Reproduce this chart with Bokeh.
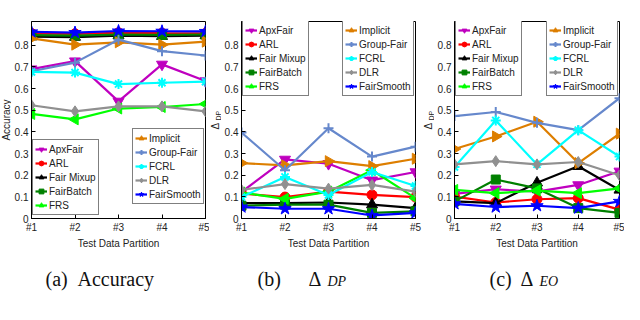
import math
from bokeh.plotting import figure
from bokeh.models import FixedTicker, Legend, LegendItem
from bokeh.layouts import column, row
from bokeh.embed import file_html
from bokeh.resources import INLINE
from bokeh.core.properties import value

# ---------------- data ----------------
partitions = [1, 2, 3, 4, 5]
partition_labels = ["#1", "#2", "#3", "#4", "#5"]
y_ticks = [0, 0.1, 0.2, 0.3, 0.4, 0.5, 0.6, 0.7, 0.8]
y_tick_labels = ["0", "0.1", "0.2", "0.3", "0.4", "0.5", "0.6", "0.7", "0.8"]
methods = ["ApxFair", "ARL", "Fair Mixup", "FairBatch", "FRS",
           "Implicit", "Group-Fair", "FCRL", "DLR", "FairSmooth"]

# (a) Accuracy
acc_apxfair = [0.690, 0.727, 0.541, 0.712, 0.635]
acc_arl = [0.855, 0.853, 0.858, 0.856, 0.855]
acc_fairmixup = [0.840, 0.838, 0.845, 0.842, 0.845]
acc_fairbatch = [0.847, 0.845, 0.850, 0.848, 0.850]
acc_frs = [0.483, 0.458, 0.508, 0.515, 0.529]
acc_implicit = [0.832, 0.803, 0.814, 0.803, 0.817]
acc_groupfair = [0.680, 0.720, 0.826, 0.773, 0.753]
acc_fcrl = [0.677, 0.674, 0.621, 0.627, 0.632]
acc_dlr = [0.523, 0.495, 0.518, 0.518, 0.495]
acc_fairsmooth = [0.862, 0.859, 0.866, 0.865, 0.864]

# (b) Delta DP
dp_apxfair = [0.122, 0.273, 0.253, 0.177, 0.215]
dp_arl = [0.115, 0.099, 0.124, 0.109, 0.099]
dp_fairmixup = [0.071, 0.071, 0.074, 0.064, 0.048]
dp_fairbatch = [0.059, 0.064, 0.064, 0.026, 0.033]
dp_frs = [0.120, 0.091, 0.124, 0.223, 0.094]
dp_implicit = [0.256, 0.245, 0.265, 0.242, 0.276]
dp_groupfair = [0.397, 0.223, 0.417, 0.286, 0.332]
dp_fcrl = [0.099, 0.192, 0.109, 0.215, 0.150]
dp_dlr = [0.132, 0.159, 0.138, 0.155, 0.124]
dp_fairsmooth = [0.053, 0.045, 0.045, 0.014, 0.026]

# (c) Delta EO
eo_apxfair = [0.114, 0.135, 0.124, 0.155, 0.218]
eo_arl = [0.101, 0.074, 0.089, 0.094, 0.041]
eo_fairmixup = [0.079, 0.071, 0.165, 0.241, 0.132]
eo_fairbatch = [0.079, 0.180, 0.139, 0.048, 0.026]
eo_frs = [0.132, 0.117, 0.129, 0.117, 0.139]
eo_implicit = [0.321, 0.379, 0.447, 0.256, 0.392]
eo_groupfair = [0.473, 0.492, 0.442, 0.408, 0.556]
eo_fcrl = [0.238, 0.453, 0.250, 0.408, 0.286]
eo_dlr = [0.250, 0.265, 0.250, 0.261, 0.200]
eo_fairsmooth = [0.068, 0.053, 0.059, 0.048, 0.079]

acc_series = [acc_apxfair, acc_arl, acc_fairmixup, acc_fairbatch, acc_frs,
              acc_implicit, acc_groupfair, acc_fcrl, acc_dlr, acc_fairsmooth]
dp_series = [dp_apxfair, dp_arl, dp_fairmixup, dp_fairbatch, dp_frs,
             dp_implicit, dp_groupfair, dp_fcrl, dp_dlr, dp_fairsmooth]
eo_series = [eo_apxfair, eo_arl, eo_fairmixup, eo_fairbatch, eo_frs,
             eo_implicit, eo_groupfair, eo_fcrl, eo_dlr, eo_fairsmooth]

# ---------------- styles ----------------
colors = ["#BF00BF", "#FF0000", "#000000", "#008000", "#00FF00",
          "#DD7E00", "#6688CC", "#00FFFF", "#909090", "#0000FF"]
markers = ["inverted_triangle", "circle", "triangle", "square", "triangle",
           "triangle", "cross", "asterisk", "diamond", "star"]
angles = [0, 0, 0, 0, math.pi / 2, -math.pi / 2, 0, 0, 0, 0]
msizes = [11, 10, 11, 9, 11, 11, 10, 10, 11, 13]

SANS = "'Liberation Sans', Arial, sans-serif"
SERIF = "'Liberation Serif', serif"
TXT = "#222222"
Y_RANGE = (0, 0.91)
H = 251
TOP = 21
BOTTOM = 30


def make_panel(series, width, left, right, leg_left_loc, leg_right_loc):
    p = figure(width=width, height=H, x_range=(1, 5), y_range=Y_RANGE,
               output_backend="svg", toolbar_location=None,
               min_border_left=left, min_border_right=right,
               min_border_top=TOP, min_border_bottom=BOTTOM)
    p.grid.visible = False
    p.outline_line_color = "#000000"
    p.outline_line_alpha = 1
    p.background_fill_color = "white"
    p.border_fill_color = "white"
    for ax in (p.xaxis[0], p.yaxis[0]):
        ax.major_tick_in = 4
        ax.major_tick_out = 0
        ax.minor_tick_line_color = None
        ax.axis_line_color = "#000000"
        ax.major_label_text_font = SANS
        ax.major_label_text_font_size = "10px"
        ax.major_label_text_color = TXT
        ax.major_label_standoff = 3
    p.xaxis.ticker = FixedTicker(ticks=partitions)
    p.xaxis.major_label_overrides = {t: l for t, l in zip(partitions, partition_labels)}
    p.yaxis.ticker = FixedTicker(ticks=y_ticks)
    p.yaxis.major_label_overrides = {t: l for t, l in zip(y_ticks, y_tick_labels)}
    p.xaxis.axis_label = "Test Data Partition"
    p.xaxis.axis_label_text_font = SANS
    p.xaxis.axis_label_text_font_style = "normal"
    p.xaxis.axis_label_text_font_size = "10px"
    p.xaxis.axis_label_text_color = TXT
    p.xaxis.axis_label_standoff = 2

    items = []
    for i, (vals, m) in enumerate(zip(series, methods)):
        lr = p.line(partitions, vals, line_color=colors[i], line_width=2.2)
        sr = p.scatter(partitions, vals, marker=markers[i], size=msizes[i],
                       angle=angles[i], fill_color=colors[i], line_color=colors[i],
                       line_width=2 if markers[i] in ("cross", "asterisk") else 1)
        items.append(LegendItem(label=m, renderers=[lr, sr]))

    for its, loc in ((items[:5], leg_left_loc), (items[5:], leg_right_loc)):
        leg = Legend(items=its, location=loc, orientation="vertical",
                     border_line_color="#000000", border_line_width=1,
                     background_fill_color="white", background_fill_alpha=1,
                     label_text_font=SANS, label_text_font_size="10px",
                     label_text_color=TXT,
                     glyph_width=12, glyph_height=14, label_height=14,
                     spacing=0, padding=2, margin=0, label_standoff=2)
        p.add_layout(leg)
    return p


def make_ylabel(width, main_text, sub_text, x_main):
    f = figure(width=width, height=H, x_range=(0, width), y_range=Y_RANGE,
               output_backend="svg", toolbar_location=None,
               x_axis_location=None, y_axis_location=None,
               min_border_left=0, min_border_right=0,
               min_border_top=TOP, min_border_bottom=BOTTOM)
    f.outline_line_color = None
    f.grid.visible = False
    if sub_text is None:
        f.text(x=[x_main], y=[0.455], text=[main_text], angle=math.pi / 2,
               text_align="center", text_baseline="middle",
               text_font=value(SANS), text_font_size="10px", text_color=TXT)
    else:
        f.text(x=[x_main], y=[0.427], text=[main_text], angle=math.pi / 2,
               text_align="center", text_baseline="middle",
               text_font=value(SANS), text_font_size="10px", text_color=TXT)
        f.text(x=[x_main + 3], y=[0.475], text=[sub_text], angle=math.pi / 2,
               text_align="center", text_baseline="middle",
               text_font=value(SANS), text_font_size="7px", text_color=TXT)
    return f


ya = make_ylabel(11, "Accuracy", None, 6)
pa = make_panel(acc_series, 198, 18, 4, (1, 3), (101, 14))
yb = make_ylabel(12, "Δ", "DP", 6)
pb = make_panel(dp_series, 201, 18, 7, (1, 122), (101, 122))
yc = make_ylabel(12, "Δ", "DP", 6)
pc = make_panel(eo_series, 190, 18, 5, (1, 122), (92, 122))

# captions
cap = figure(width=624, height=53, x_range=(0, 624), y_range=(53, 0),
             output_backend="svg", toolbar_location=None,
             x_axis_location=None, y_axis_location=None, min_border=0)
cap.outline_line_color = None
cap.grid.visible = False
cap_x = [45, 77, 257, 308, 489, 520]
cap_t = ["(a)", "Accuracy", "(b)", "Δ", "(c)", "Δ"]
cap.text(x=cap_x, y=[27] * 6, text=cap_t, text_font=value(SERIF),
         text_font_size="20px", text_baseline="alphabetic", text_color="#111111")
cap.text(x=[327, 539], y=[30, 30], text=["DP", "EO"], text_font=value(SERIF),
         text_font_style="italic", text_font_size="14px",
         text_baseline="alphabetic", text_color="#111111")
cap.text(x=[74], y=[49], text=["Figure 1:  Performance with Varying Test Data Partition"],
         text_font=value(SERIF), text_font_size="19px", text_baseline="top",
         text_color="#111111")

layout = column(row(ya, pa, yb, pb, yc, pc), cap)
open("out.html", "w").write(file_html(layout, INLINE))
